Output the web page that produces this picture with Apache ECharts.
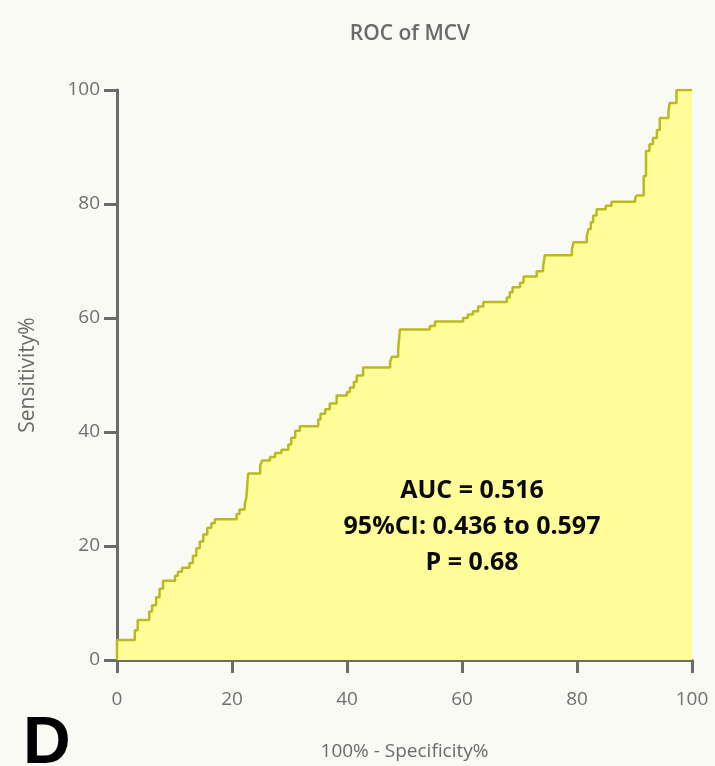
<!DOCTYPE html>
<html>
<head>
<meta charset="utf-8">
<script src="https://cdn.jsdelivr.net/npm/echarts@6/dist/echarts.min.js"></script>
<style>
html,body{margin:0;padding:0;background:#FAFAF4;}
#chart{width:715px;height:766px;}
</style>
</head>
<body>
<div id="chart"></div>
<script>
// ROC corner points: (100% - Specificity%, Sensitivity%) after each rise
const fpr = [0, 0, 3.1, 3.6, 5.6, 6.1, 6.8, 7.4, 8.0, 10.1, 10.6, 11.3, 12.6, 13.2, 13.8, 14.4, 15.0, 15.7, 16.4, 17.0,
  20.8, 21.3, 22.2, 22.5, 22.8, 24.9, 25.2, 26.6, 27.5, 28.6, 29.8, 30.3, 31.0, 31.8, 35.0, 35.4, 36.2, 37.0, 38.2, 40.0,
  40.5, 41.2, 41.7, 42.8, 47.5, 47.8, 48.9, 49.2, 54.4, 55.3, 60.2, 61.0, 61.9, 62.8, 63.7, 67.8, 68.3, 68.8, 70.1, 70.7,
  73.0, 74.1, 74.4, 79.1, 79.4, 81.7, 82.0, 82.4, 82.8, 83.4, 85.0, 86.0, 90.1, 90.4, 91.6, 92.0, 92.6, 93.2, 93.9, 94.4,
  95.9, 96.1, 97.3, 100];
const tpr = [0, 3.5, 5.2, 7.0, 8.5, 9.6, 11.0, 12.5, 13.9, 14.8, 15.5, 16.2, 17.0, 18.3, 19.6, 20.8, 22.0, 23.2, 24.0, 24.7,
  25.6, 26.4, 27.3, 28.5, 32.7, 34.0, 35.0, 35.6, 36.3, 36.9, 37.8, 39.0, 40.2, 41.0, 42.2, 43.2, 44.0, 45.0, 46.4, 47.0,
  47.8, 48.8, 49.9, 51.3, 52.3, 53.2, 54.5, 58.0, 58.6, 59.4, 60.0, 60.6, 61.2, 62.0, 62.8, 63.6, 64.5, 65.4, 66.2, 67.3,
  68.2, 69.0, 71.0, 72.0, 73.3, 74.3, 75.6, 76.8, 78.0, 79.1, 79.7, 80.4, 81.0, 81.5, 84.9, 89.3, 90.5, 91.6, 93.0, 95.1,
  96.2, 97.7, 100, 100];
const xTicks = [0, 20, 40, 60, 80, 100];
const yTicks = [0, 20, 40, 60, 80, 100];
const chartTitle = 'ROC of MCV';
const xTitle = '100% - Specificity%';
const yTitle = 'Sensitivity%';
const statsLines = ['AUC = 0.516', '95%CI: 0.436 to 0.597', 'P = 0.68'];
const panelLetter = 'D';

const points = fpr.map((x, i) => [x, tpr[i]]);
const FONT = '"Open Sans", "Noto Sans", sans-serif';
const gray = '#6b6b6b';

const chart = echarts.init(document.getElementById('chart'), null, {renderer: 'canvas'});
chart.setOption({
  backgroundColor: '#FAFAF4',
  animation: false,
  title: {
    text: chartTitle,
    left: 405, top: 19, textAlign: 'center',
    textStyle: {fontFamily: FONT, fontSize: 21, fontWeight: 600, color: '#6a6a6a'}
  },
  grid: {left: 117, right: 23, top: 90, bottom: 101, containLabel: false},
  xAxis: {
    type: 'value', min: 0, max: 100, interval: 20,
    name: xTitle, nameLocation: 'middle', nameGap: 82,
    nameTextStyle: {fontFamily: FONT, fontSize: 19, color: '#6a6a6a'},
    axisLine: {show: true, onZero: false, lineStyle: {color: gray, width: 3}},
    axisTick: {show: true, inside: false, length: 13, lineStyle: {color: gray, width: 3}},
    axisLabel: {fontFamily: FONT, fontSize: 19, color: '#707070', margin: 30,
      formatter: v => (xTicks.includes(v) ? String(v) : '')},
    splitLine: {show: false}
  },
  yAxis: {
    type: 'value', min: 0, max: 100, interval: 20,
    name: yTitle, nameLocation: 'middle', nameGap: 78, nameRotate: 90,
    nameTextStyle: {fontFamily: FONT, fontSize: 21, color: '#6a6a6a', padding: [0, 0, 0, 0]},
    axisLine: {show: true, onZero: false, lineStyle: {color: gray, width: 3}},
    axisTick: {show: true, inside: false, length: 13, lineStyle: {color: gray, width: 3}},
    axisLabel: {fontFamily: FONT, fontSize: 19, color: '#707070', margin: 17,
      formatter: v => (yTicks.includes(v) ? String(v) : '')},
    splitLine: {show: false}
  },
  series: [{
    type: 'line',
    data: points,
    step: 'end',
    symbol: 'none',
    z: 1,
    lineStyle: {color: '#BABA1C', width: 2.5},
    areaStyle: {color: '#FFFD9A', opacity: 1, origin: 'start'}
  }],
  graphic: [
    {
      type: 'text', x: 472, y: 527, z: 10,
      style: {
        text: statsLines.join('\n'),
        textAlign: 'center', textVerticalAlign: 'middle', verticalAlign: 'middle', align: 'center',
        fontFamily: FONT, fontSize: 25, fontWeight: 'bold', lineHeight: 36,
        fill: '#0a0a0a'
      }
    },
    {
      type: 'text', x: 23, y: 712, z: 10,
      style: {
        text: panelLetter,
        fontFamily: '"Liberation Sans", Arial, sans-serif', fontSize: 66, fontWeight: 'bold',
        fill: '#000'
      }
    }
  ]
});
</script>
</body>
</html>
